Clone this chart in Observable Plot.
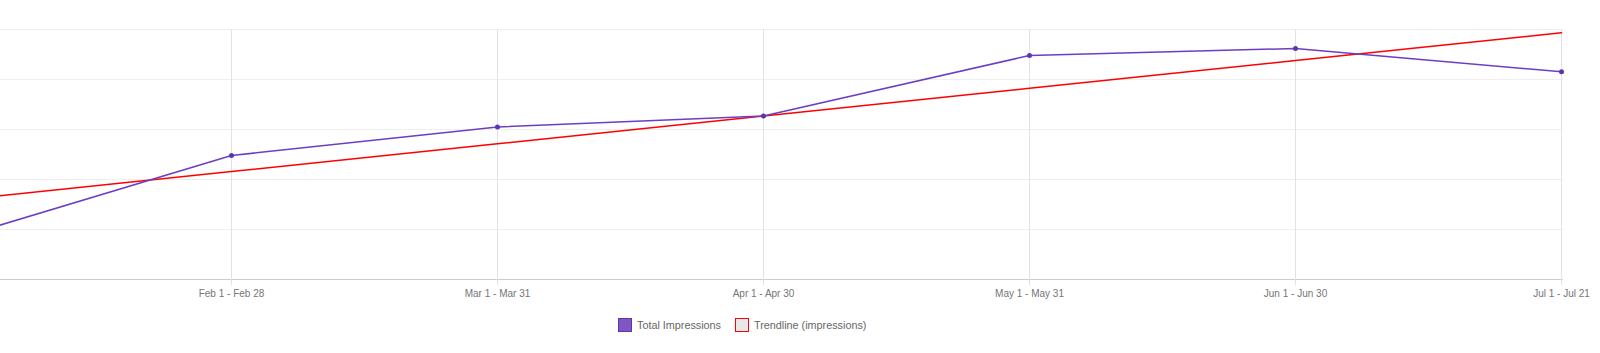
<!DOCTYPE html>
<html>
<head>
<meta charset="utf-8">
<script src="https://cdn.jsdelivr.net/npm/d3@7"></script>
<script src="https://cdn.jsdelivr.net/npm/@observablehq/plot@0.6"></script>
<style>
  html, body { margin: 0; padding: 0; background: #fff; }
  body { width: 1600px; height: 353px; overflow: hidden; font-family: "Liberation Sans", Arial, sans-serif; }
  #legend { position: relative; height: 48px; }
  .item { position: absolute; top: 13px; display: flex; align-items: center; font-size: 10.8px; color: #666; white-space: nowrap; }
  .sw { width: 12px; height: 12px; margin-right: 5px; box-sizing: content-box; }
</style>
</head>
<body>
<div id="chart"></div>
<div id="legend"></div>
<script>
const months = ["Jan 1 - Jan 31", "Feb 1 - Feb 28", "Mar 1 - Mar 31", "Apr 1 - Apr 30", "May 1 - May 31", "Jun 1 - Jun 30", "Jul 1 - Jul 21"];
const visibleTicks = ["Feb 1 - Feb 28", "Mar 1 - Mar 31", "Apr 1 - Apr 30", "May 1 - May 31", "Jun 1 - Jun 30", "Jul 1 - Jul 21"];
const impressions = [8800, 24800, 30500, 32700, 44800, 46200, 41540];
const trendline = [16040, 21590, 27140, 32690, 38240, 43790, 49340];
const yTicks = [0, 10000, 20000, 30000, 40000, 50000];
const seriesNames = ["Total Impressions", "Trendline (impressions)"];

const data = months.map((m, i) => ({month: m, value: impressions[i], trend: trendline[i]}));

const chart = Plot.plot({
  width: 1600,
  height: 305,
  marginLeft: 0,
  marginRight: 37,
  marginTop: 29,
  marginBottom: 26,
  style: {fontFamily: "'Liberation Sans', Arial, sans-serif", fontSize: "10px", color: "#757575", background: "#fff"},
  x: {type: "point", domain: months, range: [-36.6, 1563], padding: 0, align: 0.5, label: null},
  y: {domain: [0, 50000], axis: null},
  marks: [
    Plot.gridY(yTicks, {stroke: "#efefef", strokeOpacity: 1}),
    Plot.gridX(visibleTicks, {stroke: "#e2e2e2", strokeOpacity: 1}),
    Plot.ruleY([0], {stroke: "#cccccc", strokeWidth: 1}),
    Plot.axisX(visibleTicks, {tickSize: 6, tickPadding: 4, stroke: "#e2e2e2", fill: "#757575", fontSize: 10}),
    Plot.line(data, {x: "month", y: "trend", stroke: "#ff0000", strokeWidth: 1.6, clip: true}),
    Plot.line(data, {x: "month", y: "value", stroke: "#6a3fc4", strokeWidth: 1.5, clip: true}),
    Plot.dot(data, {x: "month", y: "value", r: 2.5, fill: "#5e35b1", stroke: "none"})
  ]
});
document.getElementById("chart").appendChild(chart);

const legend = document.getElementById("legend");
const items = [
  {name: seriesNames[0], left: 618, fill: "#7e57c2", border: "1px solid #5e35b1"},
  {name: seriesNames[1], left: 735, fill: "#e8e8e8", border: "1px solid #ff0000"}
];
for (const it of items) {
  const d = document.createElement("div");
  d.className = "item";
  d.style.left = it.left + "px";
  const sw = document.createElement("span");
  sw.className = "sw";
  sw.style.background = it.fill;
  sw.style.border = it.border;
  const t = document.createElement("span");
  t.textContent = it.name;
  d.appendChild(sw);
  d.appendChild(t);
  legend.appendChild(d);
}
</script>
</body>
</html>
